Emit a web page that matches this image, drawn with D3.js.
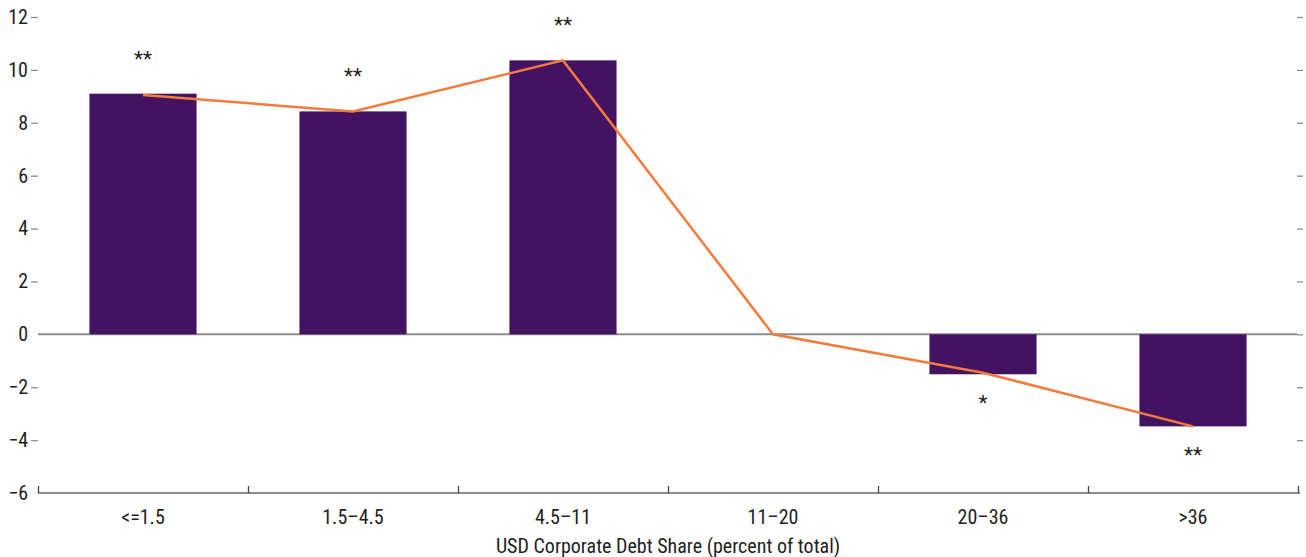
<!DOCTYPE html>
<html>
<head>
<meta charset="utf-8">
<script src="https://cdn.jsdelivr.net/npm/d3@7"></script>
<style>
  html, body { margin: 0; padding: 0; background: #fff; }
  svg text { font-family: "Liberation Sans Narrow", "Arial Narrow", "Roboto Condensed", Roboto, sans-serif; fill: #231f20; }
</style>
</head>
<body>
<svg id="chart" width="1306" height="557"></svg>
<script>
// Debt share buckets and estimated effects
const categories = ["<=1.5", "1.5\u20134.5", "4.5\u201311", "11\u201320", "20\u201336", ">36"];
const barValues = [9.1, 8.43, 10.36, 0, -1.51, -3.48];
const lineValues = [9.05, 8.43, 10.36, 0, -1.45, -3.48];
const significance = ["**", "**", "**", "", "*", "**"];
const yTicks = [-6, -4, -2, 0, 2, 4, 6, 8, 10, 12];
const xTitle = "USD Corporate Debt Share (percent of total)";

const svg = d3.select("#chart");
const margin = { left: 38, right: 8, top: 17, bottom: 64 };
const W = 1306, H = 557;

const x = d3.scaleBand().domain(categories)
  .range([margin.left, W - margin.right]).paddingInner(0.49).paddingOuter(0.245);
const y = d3.scaleLinear().domain([-6, 12]).range([H - margin.bottom, margin.top]);

const axisColor = "#8c8c8c";
const fontSize = "20px";

// left axis: labels and short ticks, no spine
const left = svg.append("g").attr("transform", `translate(${margin.left},0)`)
  .call(d3.axisLeft(y).tickValues(yTicks).tickSize(7).tickPadding(3)
    .tickFormat(d => d < 0 ? "\u2212" + Math.abs(d) : d));
left.select(".domain").remove();
left.selectAll("line").attr("stroke", axisColor).attr("stroke-width", 1.3);
left.selectAll("text").style("font-size", fontSize);
left.selectAll(".tick").filter(d => d === 0 || d === -6).select("line").remove();

// right axis: ticks only
const right = svg.append("g").attr("transform", `translate(${W - margin.right - 1},0)`)
  .call(d3.axisRight(y).tickValues(yTicks.filter(d => d !== -6)).tickSize(6).tickFormat(""));
right.select(".domain").remove();
right.selectAll("line").attr("stroke", axisColor).attr("stroke-width", 1.3);

// zero line
svg.append("line")
  .attr("x1", margin.left).attr("x2", W - margin.right - 1)
  .attr("y1", y(0)).attr("y2", y(0))
  .attr("stroke", axisColor).attr("stroke-width", 2);

// bars
svg.append("g").selectAll("rect").data(barValues).join("rect")
  .attr("x", (d, i) => x(categories[i]))
  .attr("width", x.bandwidth())
  .attr("y", d => y(Math.max(0, d)))
  .attr("height", d => Math.abs(y(d) - y(0)))
  .attr("fill", "#431261");

// bottom axis with ticks at bucket boundaries
const bottomY = y(-6);
svg.append("line")
  .attr("x1", margin.left).attr("x2", W - margin.right + 2)
  .attr("y1", bottomY).attr("y2", bottomY)
  .attr("stroke", axisColor).attr("stroke-width", 2);
const step = x.step();
const edges = d3.range(categories.length + 1).map(i =>
  i < categories.length ? x(categories[i]) + x.bandwidth() / 2 - step / 2 : x(categories[i - 1]) + x.bandwidth() / 2 + step / 2);
svg.append("g").selectAll("line").data(edges).join("line")
  .attr("x1", d => d + 0.5).attr("x2", d => d + 0.5)
  .attr("y1", bottomY).attr("y2", bottomY - 7)
  .attr("stroke", "#444").attr("stroke-width", 1.3);

// category labels
svg.append("g").selectAll("text").data(categories).join("text")
  .attr("x", d => x(d) + x.bandwidth() / 2)
  .attr("y", bottomY + 31)
  .attr("text-anchor", "middle")
  .style("font-size", fontSize)
  .text(d => d);

// axis title
svg.append("text")
  .attr("x", (margin.left + W - margin.right) / 2)
  .attr("y", H - 4)
  .attr("text-anchor", "middle")
  .style("font-size", fontSize)
  .text(xTitle);

// point estimate line
const line = d3.line()
  .x((d, i) => x(categories[i]) + x.bandwidth() / 2)
  .y(d => y(d));
svg.append("path").datum(lineValues)
  .attr("d", line)
  .attr("fill", "none")
  .attr("stroke", "#f47b3c")
  .attr("stroke-width", 2.5);

// significance markers
svg.append("g").selectAll("text").data(barValues).join("text")
  .attr("x", (d, i) => x(categories[i]) + x.bandwidth() / 2)
  .attr("y", d => d >= 0 ? y(d) - 28 : y(d) + 36)
  .attr("text-anchor", "middle")
  .style("font-size", "21px")
  .text((d, i) => significance[i]);
</script>
</body>
</html>
